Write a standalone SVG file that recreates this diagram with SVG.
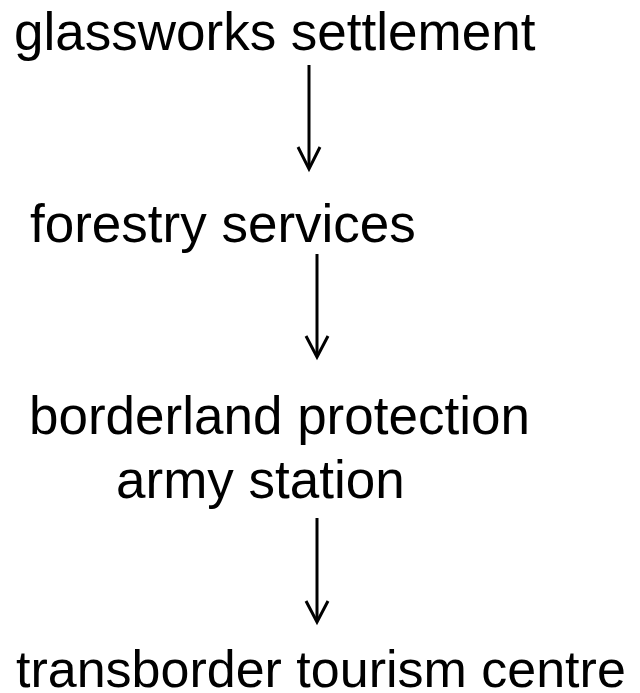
<svg xmlns="http://www.w3.org/2000/svg" width="640" height="693" viewBox="0 0 640 693">
<style>
text{font-family:"Liberation Sans",Arial,sans-serif;font-size:53px;fill:#000}
.c line,.c polyline{stroke:#000;stroke-width:3;fill:none}
</style>
<rect width="640" height="693" fill="#fff"/>
<g id="n1"><text x="14" y="50">glassworks settlement</text></g>
<g id="n2"><text x="30" y="242">forestry services</text></g>
<g id="n3"><text x="29" y="434">borderland protection</text><text x="116" y="498">army station</text></g>
<g id="n4"><text x="16" y="687" style="font-size:52px">transborder tourism centre</text></g>
<g class="c" id="connectors">
<line x1="309" y1="65" x2="309" y2="168"/><polyline points="298,147 309,169 320,147"/>
<line x1="317" y1="254" x2="317" y2="356"/><polyline points="306,336 317,357 328,336"/>
<line x1="317" y1="518" x2="317" y2="621"/><polyline points="306,601 317,622 328,601"/>
</g>
</svg>
